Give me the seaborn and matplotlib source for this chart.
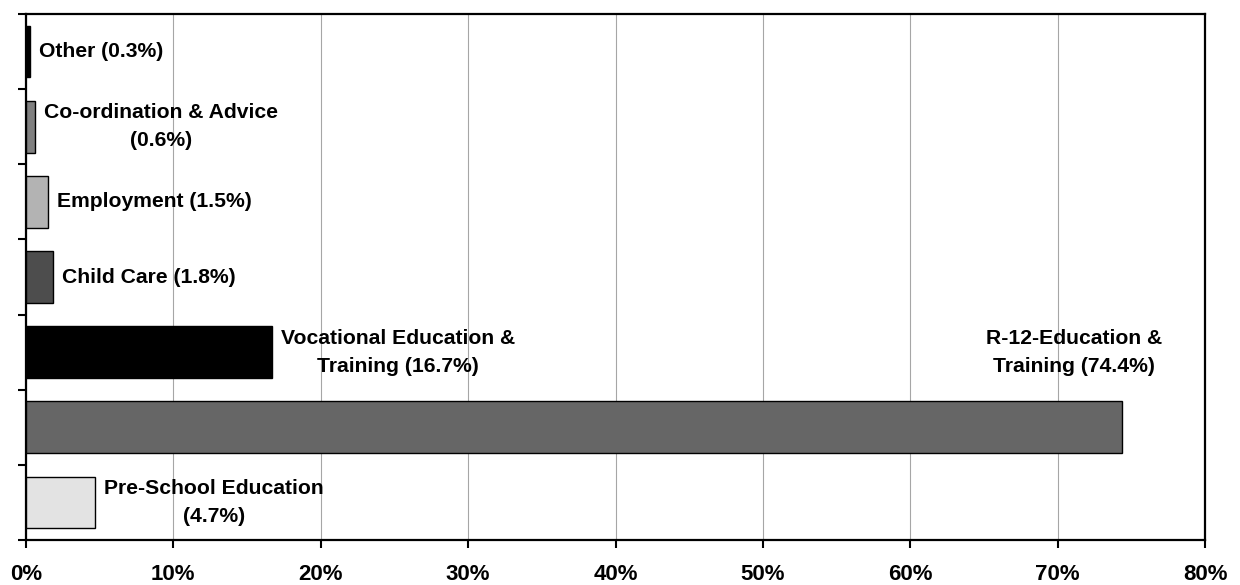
import matplotlib
matplotlib.use("Agg")
import matplotlib.pyplot as plt
import seaborn as sns
import pandas as pd

# Share of expenditure by service area (%)
categories = [
    "Other",
    "Co-ordination & Advice",
    "Employment",
    "Child Care",
    "Vocational Education & Training",
    "R-12-Education & Training",
    "Pre-School Education",
]
shares = [0.3, 0.6, 1.5, 1.8, 16.7, 74.4, 4.7]
label_texts = [
    "Other (0.3%)",
    "Co-ordination & Advice\n(0.6%)",
    "Employment (1.5%)",
    "Child Care (1.8%)",
    "Vocational Education &\nTraining (16.7%)",
    "R-12-Education &\nTraining (74.4%)",
    "Pre-School Education\n(4.7%)",
]
bar_colors = ["#000000", "#808080", "#b3b3b3", "#4d4d4d", "#000000", "#666666", "#e3e3e3"]
x_ticks = [0, 10, 20, 30, 40, 50, 60, 70, 80]
x_tick_labels = [f"{t}%" for t in x_ticks]

sns.set_theme(style="white")
plt.rcParams["font.family"] = ["Liberation Sans", "DejaVu Sans"]
plt.rcParams["font.weight"] = "bold"
plt.rcParams["text.color"] = "black"
plt.rcParams["xtick.color"] = "black"
plt.rcParams["ytick.color"] = "black"

df = pd.DataFrame({"area": categories, "share": shares})

fig = plt.figure(figsize=(12.4, 5.85), dpi=100)
ax = fig.add_axes([26 / 1240, 1 - 540 / 585, (1205 - 26) / 1240, (540 - 14) / 585])

sns.barplot(
    data=df, y="area", x="share", hue="area", order=categories,
    hue_order=categories, palette=bar_colors, orient="h", width=0.69,
    edgecolor="black", linewidth=1.0, legend=False, ax=ax, zorder=3,
)

ax.set_xlim(0, 80)
ax.set_ylim(6.5, -0.5)
ax.set_xticks(x_ticks)
ax.set_xticklabels(x_tick_labels, fontsize=16, fontweight="bold", color="black")
ax.set_yticks([])
ax.set_yticks([i - 0.5 for i in range(len(categories) + 1)], minor=True)
ax.tick_params(axis="y", which="minor", direction="out", length=6, width=1.5,
               color="black", left=True)
ax.tick_params(axis="x", direction="out", length=6, width=1.5, color="black",
               bottom=True, pad=11)
ax.set_xlabel("")
ax.set_ylabel("")

ax.grid(axis="x", color="#a6a6a6", linewidth=0.8, zorder=0)
ax.grid(axis="y", visible=False)
for side in ["left", "right", "top", "bottom"]:
    ax.spines[side].set_visible(True)
    ax.spines[side].set_color("black")
    ax.spines[side].set_linewidth(1.6)

# Data labels next to each bar end
for i, (val, txt) in enumerate(zip(shares, label_texts)):
    if categories[i].startswith("R-12"):
        # label sits above its long bar
        ax.annotate(txt, xy=(val, i), xytext=(-35, 54), textcoords="offset points",
                    ha="center", va="center", multialignment="center",
                    fontsize=15.2, fontweight="bold", linespacing=1.6,
                    color="black", zorder=4)
    else:
        ax.annotate(txt, xy=(val, i), xytext=(6.5, 0), textcoords="offset points",
                    ha="left", va="center", multialignment="center",
                    fontsize=15.2, fontweight="bold", linespacing=1.6,
                    color="black", zorder=4)

fig.savefig("out.png", dpi=100, facecolor="white")
